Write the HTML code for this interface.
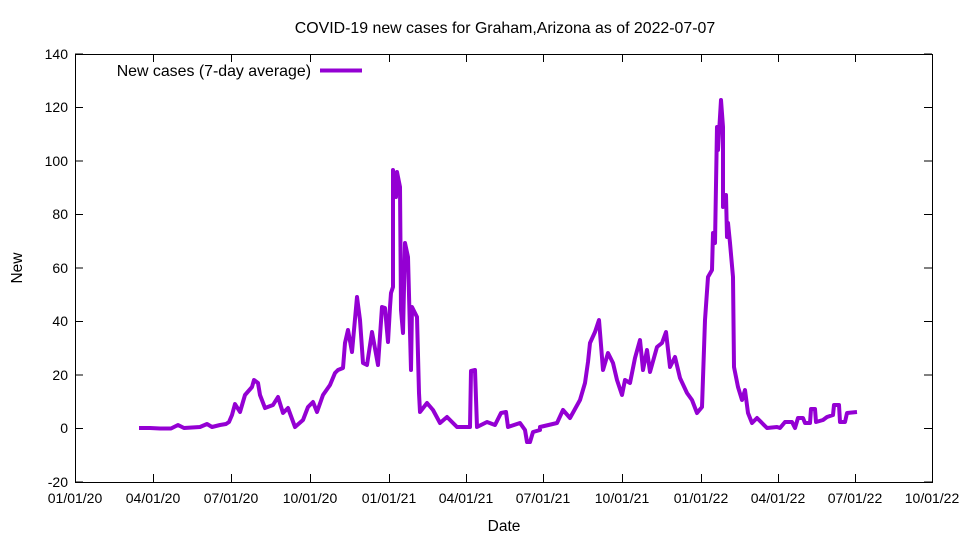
<!DOCTYPE html>
<html><head><meta charset="utf-8"><style>body{margin:0;background:#fff}svg{display:block;font-family:"Liberation Sans",sans-serif}</style></head>
<body>
<svg width="960" height="540" viewBox="0 0 960 540" xmlns="http://www.w3.org/2000/svg">
<rect width="960" height="540" fill="#fff"/>
<text x="505" y="33" font-size="15.9" text-anchor="middle">COVID-19 new cases for Graham,Arizona as of 2022-07-07</text>
<g stroke="#000" stroke-width="1" fill="none">
<rect x="75.5" y="54.5" width="857" height="428"/>
<path d="M75 428.5h8M932 428.5h-8M75 375h8M932 375h-8M75 321.5h8M932 321.5h-8M75 268h8M932 268h-8M75 214.5h8M932 214.5h-8M75 161h8M932 161h-8M75 107.5h8M932 107.5h-8M75 482h8M932 482h-8M75 54h8M932 54h-8"/>
<path d="M153.5 482v-8M153.5 54v8M231.5 482v-8M231.5 54v8M310.5 482v-8M310.5 54v8M389.5 482v-8M389.5 54v8M466.5 482v-8M466.5 54v8M543.5 482v-8M543.5 54v8M622.5 482v-8M622.5 54v8M701.5 482v-8M701.5 54v8M778.5 482v-8M778.5 54v8M855.5 482v-8M855.5 54v8"/>
</g>
<g font-size="14" text-anchor="end">
<text x="68" y="59">140</text><text x="68" y="112">120</text><text x="68" y="166">100</text><text x="68" y="219">80</text><text x="68" y="273">60</text><text x="68" y="326">40</text><text x="68" y="380">20</text><text x="68" y="433">0</text><text x="68" y="487">-20</text>
</g>
<g font-size="14" text-anchor="middle">
<text x="75" y="503">01/01/20</text><text x="153" y="503">04/01/20</text><text x="231" y="503">07/01/20</text><text x="310" y="503">10/01/20</text><text x="389" y="503">01/01/21</text><text x="466" y="503">04/01/21</text><text x="543" y="503">07/01/21</text><text x="622" y="503">10/01/21</text><text x="701" y="503">01/01/22</text><text x="778" y="503">04/01/22</text><text x="855" y="503">07/01/22</text><text x="932" y="503">10/01/22</text>
</g>
<text x="504" y="531" font-size="15.5" text-anchor="middle">Date</text>
<text x="22" y="268" font-size="15.5" text-anchor="middle" transform="rotate(-90 22 268)">New</text>
<text x="311" y="76" font-size="15.9" text-anchor="end">New cases (7-day average)</text>
<path d="M320 70.5h42" stroke="#9400d3" stroke-width="4"/>
<polyline fill="none" stroke="#9400d3" stroke-width="4" stroke-linejoin="round" points="139,428 150,428 160,428.5 171,428.5 178,425 184,428 200,427 207,424 212,427 220,425 226,424 229,422 232,415 235,404 240,412 245,395 252,387 254,380 258,383 260,395 265,408 273,405 278,397 283,413 288,408 295,427 303,420 308,407 313,402 317,412 323,395 330,385 335,373 338,370 343,368 345,343 348,330 352,352 357,297 360,320 363,363 367,365 372,332 378,365 382,307 385,308 388,342 390,307 391,293 393,287 393,170 396,197 397,172 400,187 401,310 403,333 405,243 408,257 411,370 412,307 417,317 419,393 420,412 427,403 433,410 440,423 447,417 457,427 467,427 470,427 471,371 475,370 477,427 487,422 495,425 501,413 506,412 508,427 520,423 525,430 527,442 530,442 533,432 540,430 540,427 557,423 563,410 570,418 580,400 585,383 588,362 590,343 595,332 599,320 603,370 608,353 613,363 617,380 622,395 625,380 630,383 635,358 640,340 643,370 647,350 650,372 657,347 662,343 666,332 670,367 675,357 680,378 687,393 692,400 697,413 702,407 705,320 708,277 712,270 713,233 715,243 717,127 718,150 721,100 723,127 723,207 726,195 727,237 728,223 730,243 733,277 734,367 738,387 742,400 745,390 748,413 752,423 757,418 762,423 767,428 777,427 780,428 785,422 792,422 795,428 798,418 803,418 805,423 810,423 811,409 815,409 816,422 823,420 827,417 833,415 834,405 839,405 840,422 845,422 847,413 857,412"/>
</svg>
</body></html>
